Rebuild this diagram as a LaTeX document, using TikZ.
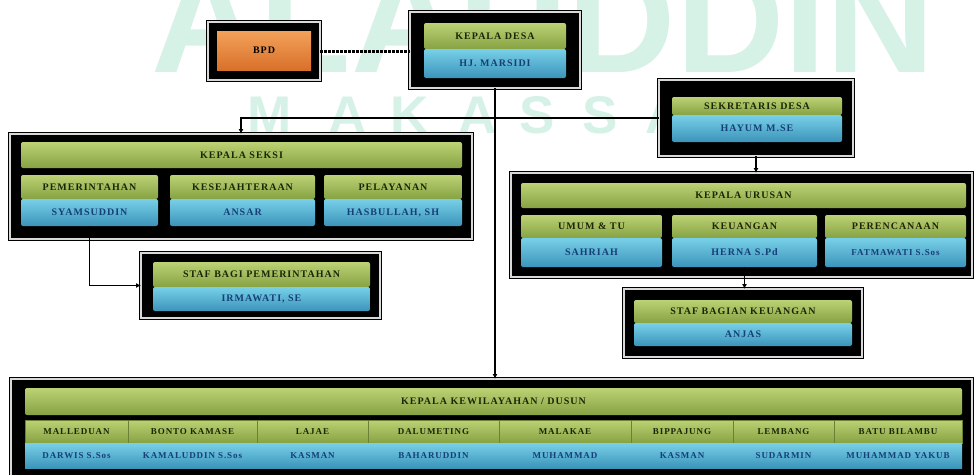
\documentclass[tikz,border=0pt]{standalone}
\usepackage{fontspec}
\setmainfont{Liberation Serif}
\newfontfamily\lblfont[LetterSpace=10]{Liberation Serif}
\newfontfamily\wmfont{Liberation Sans}
\usetikzlibrary{arrows.meta}
\definecolor{gtop}{HTML}{BCD274}
\definecolor{gbot}{HTML}{86A243}
\definecolor{btop}{HTML}{78D0E8}
\definecolor{bbot}{HTML}{3B94BA}
\definecolor{gtext}{HTML}{1C2606}
\definecolor{btext}{HTML}{163F78}
\definecolor{otop}{HTML}{F2A15A}
\definecolor{obot}{HTML}{D9702A}
\definecolor{wm}{HTML}{D6F1E6}
\newcommand\bx[7]{%
  \pgfmathsetmacro\bxw{#5-#3}\pgfmathsetmacro\bxh{#6-#4}%
  \node[#1, minimum width=\bxw pt, minimum height=\bxh pt] (#2) at (#3,#4) {#7};}
\begin{document}
\begin{tikzpicture}[x=1pt,y=-1pt,
  frame/.style={anchor=north west, inner sep=0pt, outer sep=0pt, fill=black, draw=black,
    double=gray!30, double distance=1.1pt, line width=1.4pt},
  barbase/.style={anchor=north west, inner sep=0pt, outer sep=0pt, draw=none,
    font=\lblfont\bfseries\fontsize{10}{11}\selectfont},
  gbar/.style={barbase, rounded corners=2pt, top color=gtop, bottom color=gbot, text=gtext},
  bbar/.style={barbase, rounded corners=2pt, top color=btop, bottom color=bbot, text=btext},
  obar/.style={barbase, top color=otop, bottom color=obot, text=black},
  small/.style={font=\lblfont\bfseries\fontsize{9}{10}\selectfont},
  conn/.style={line width=1.6pt, black},
  tip/.style={-{Latex[length=5pt,width=5pt]}},
  wmtext/.style={text=wm, inner sep=0pt, anchor=base}
]
\useasboundingbox (0,0) rectangle (976,474);
\clip (0,0) rectangle (976,474);
\fill[white] (0,0) rectangle (976,474);

% watermark
\node[wmtext, font=\wmfont\bfseries\fontsize{150}{150}\selectfont] (wm1) at (543,72) {ALAUDDIN};
\foreach \c/\xx [count=\i] in {M/270,A/348,K/410,A/478,S/537,S/600,A/665,R/730}
  \node[wmtext, font=\wmfont\bfseries\fontsize{53}{53}\selectfont] (wmm\i) at (\xx,133) {\c};

% BPD
\bx{frame}{bpdf}{208}{22}{320}{80}{}
\bx{obar}{bpd}{217}{31}{311}{70}{BPD}

% KEPALA DESA
\bx{frame}{kdf}{410}{12}{580}{88}{}
\bx{gbar}{kd}{424}{23}{566}{49}{KEPALA DESA}
\bx{bbar}{kdn}{424}{49}{566}{78}{HJ. MARSIDI}

% SEKRETARIS DESA
\bx{frame}{skf}{659}{80}{853}{156}{}
\bx{gbar}{sk}{672}{97}{842}{115}{SEKRETARIS DESA}
\bx{bbar}{skn}{672}{115}{842}{142}{HAYUM M.SE}

% KEPALA SEKSI
\bx{frame}{ksf}{10}{134}{472}{239}{}
\bx{gbar}{ks}{21}{142}{462}{168}{KEPALA SEKSI}
\bx{gbar}{pem}{21}{175}{158}{199}{PEMERINTAHAN}
\bx{bbar}{pemn}{21}{199}{158}{226}{SYAMSUDDIN}
\bx{gbar}{kes}{170}{175}{315}{199}{KESEJAHTERAAN}
\bx{bbar}{kesn}{170}{199}{315}{226}{ANSAR}
\bx{gbar}{pel}{324}{175}{462}{199}{PELAYANAN}
\bx{bbar}{peln}{324}{199}{462}{226}{HASBULLAH, SH}

% STAF BAGI PEMERINTAHAN
\bx{frame}{sbpf}{141}{253}{380}{318}{}
\bx{gbar}{sbp}{153}{262}{370}{287}{STAF BAGI PEMERINTAHAN}
\bx{bbar}{sbpn}{153}{287}{370}{311}{IRMAWATI, SE}

% KEPALA URUSAN
\bx{frame}{kuf}{511}{173}{972}{277}{}
\bx{gbar}{ku}{521}{183}{966}{208}{KEPALA URUSAN}
\bx{gbar}{umu}{521}{215}{662}{238}{UMUM \& TU}
\bx{bbar}{umun}{521}{238}{662}{267}{SAHRIAH}
\bx{gbar}{keu}{672}{215}{817}{238}{KEUANGAN}
\bx{bbar}{keun}{672}{238}{817}{267}{HERNA S.Pd}
\bx{gbar}{per}{825}{215}{966}{238}{PERENCANAAN}
\bx{bbar, small}{pern}{825}{238}{966}{267}{FATMAWATI S.Sos}

% STAF BAGIAN KEUANGAN
\bx{frame}{sbkf}{624}{289}{862}{357}{}
\bx{gbar}{sbk}{634}{300}{852}{323}{STAF BAGIAN KEUANGAN}
\bx{bbar}{sbkn}{634}{323}{852}{346}{ANJAS}

% KEPALA KEWILAYAHAN / DUSUN
\bx{frame}{kwf}{11}{379}{972}{486}{}
\bx{gbar}{kw}{25}{388}{962}{415}{KEPALA KEWILAYAHAN / DUSUN}
\foreach \xa/\xb/\dn/\pn [count=\i] in {
  25/128/MALLEDUAN/DARWIS S.Sos,
  128/257/BONTO KAMASE/KAMALUDDIN S.Sos,
  257/368/LAJAE/KASMAN,
  368/499/DALUMETING/BAHARUDDIN,
  499/631/MALAKAE/MUHAMMAD,
  631/733/BIPPAJUNG/KASMAN,
  733/834/LEMBANG/SUDARMIN,
  834/962/BATU BILAMBU/MUHAMMAD YAKUB}{
  \bx{gbar, small, rounded corners=0pt, draw=gbot!80!black, line width=0.3pt}{d\i}{\xa}{420}{\xb}{443}{\dn}
  \bx{bbar, small, rounded corners=0pt}{dn\i}{\xa}{443}{\xb}{468}{\pn}
}

% connectors
\draw[line width=3pt, dash pattern=on 2.5pt off 1.5pt] (bpdf.east) -- (kdf.west |- bpdf.east);
\draw[conn, tip] (kdf.south) -- (kwf.north -| kdf.south);
\draw[conn, tip] (skf.west) -| (ksf.north);
\draw[conn, tip] (skf.south) -- (kuf.north -| skf.south);
\draw[conn, tip] (pemn.south) |- (sbpf.west);
\draw[conn, tip] (keun.south) -- (sbkf.north -| keun.south);
\end{tikzpicture}
\end{document}
